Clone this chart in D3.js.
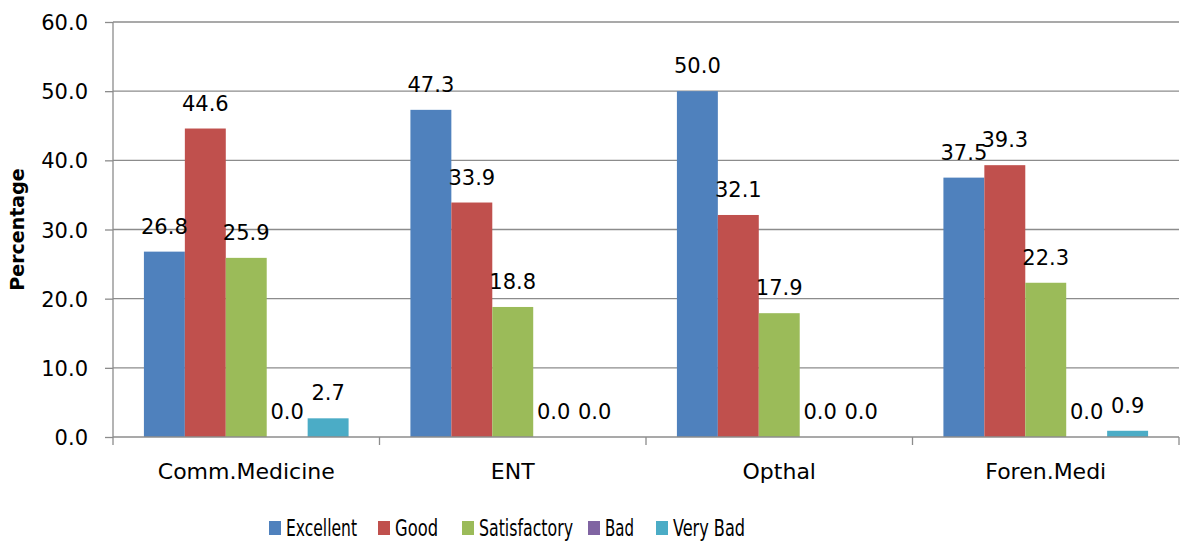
<!DOCTYPE html>
<html>
<head>
<meta charset="utf-8">
<script src="https://cdn.jsdelivr.net/npm/d3@7"></script>
<style>
  body { margin: 0; background: #fff; }
  svg { display: block; }
  text { font-family: "DejaVu Sans", sans-serif; fill: #000; }
</style>
</head>
<body>
<svg id="chart" width="1183" height="542"></svg>
<script>
const categories = ["Comm.Medicine", "ENT", "Opthal", "Foren.Medi"];
const seriesNames = ["Excellent", "Good", "Satisfactory", "Bad", "Very Bad"];
const seriesColors = ["#4F81BD", "#C0504D", "#9BBB59", "#8064A2", "#4BACC6"];
const excellent = [26.8, 47.3, 50.0, 37.5];
const good = [44.6, 33.9, 32.1, 39.3];
const satisfactory = [25.9, 18.8, 17.9, 22.3];
const bad = [0.0, 0.0, 0.0, 0.0];
const veryBad = [2.7, 0.0, 0.0, 0.9];
const yTicks = [0, 10, 20, 30, 40, 50, 60];
const yTitle = "Percentage";

const seriesValues = [excellent, good, satisfactory, bad, veryBad];

const svg = d3.select("#chart");
const margin = { left: 113, right: 4, top: 22, bottom: 105 };
const W = 1183, H = 542;
const plotL = margin.left, plotR = W - margin.right, plotT = margin.top, plotB = H - margin.bottom;

const x0 = d3.scaleBand().domain(categories).range([plotL, plotR]).paddingInner(0).paddingOuter(0);
const bw = x0.bandwidth();
const x1 = d3.scaleBand().domain(seriesNames).range([bw * 0.116, bw * 0.884]).padding(0);
const y = d3.scaleLinear().domain([0, 60]).range([plotB, plotT]);

// gridlines
svg.append("g").selectAll("line").data(yTicks.filter(d => d > 0)).join("line")
  .attr("x1", plotL).attr("x2", plotR)
  .attr("y1", d => y(d)).attr("y2", d => y(d))
  .attr("stroke", "#8c8c8c").attr("stroke-width", 1.3);

// y axis
const yAxis = d3.axisLeft(y).tickValues(yTicks).tickSize(8).tickPadding(17).tickFormat(d3.format(".1f"));
const gy = svg.append("g").attr("transform", `translate(${plotL},0)`).call(yAxis);
gy.select(".domain").remove();
gy.selectAll(".tick line").attr("stroke", "#8c8c8c").attr("stroke-width", 1.3);
gy.selectAll(".tick text").style("font-size", "21px").style("font-family", "DejaVu Sans").attr("fill", "#000").attr("dy", "0.36em");
svg.append("line").attr("x1", plotL).attr("x2", plotL).attr("y1", plotT).attr("y2", plotB + 8)
  .attr("stroke", "#8c8c8c").attr("stroke-width", 1.3);

// bars
const groups = svg.append("g").selectAll("g").data(categories).join("g")
  .attr("transform", d => `translate(${x0(d)},0)`);
groups.selectAll("rect").data((c, i) => seriesNames.map((s, j) => ({ s, j, v: seriesValues[j][i] })))
  .join("rect")
  .attr("x", d => x1(d.s)).attr("width", x1.bandwidth())
  .attr("y", d => y(d.v)).attr("height", d => y(0) - y(d.v))
  .attr("fill", d => seriesColors[d.j]);

// x axis
const xAxis = d3.axisBottom(x0).tickSize(0).tickPadding(26);
const gx = svg.append("g").attr("transform", `translate(0,${plotB})`).call(xAxis);
gx.select(".domain").remove();
gx.selectAll(".tick text").style("font-size", "22px").style("font-family", "DejaVu Sans").attr("fill", "#000");
svg.append("line").attr("x1", plotL).attr("x2", plotR).attr("y1", plotB).attr("y2", plotB)
  .attr("stroke", "#8c8c8c").attr("stroke-width", 1.3);
svg.append("g").selectAll("line").data(categories).join("line")
  .attr("x1", d => x0(d) + bw).attr("x2", d => x0(d) + bw)
  .attr("y1", plotB).attr("y2", plotB + 8)
  .attr("stroke", "#8c8c8c").attr("stroke-width", 1.3);

// value labels
groups.selectAll("text.val").data((c, i) => seriesNames.map((s, j) => ({ s, j, v: seriesValues[j][i] })))
  .join("text").attr("class", "val")
  .attr("x", d => x1(d.s) + x1.bandwidth() / 2)
  .attr("y", d => y(d.v) - 18)
  .attr("text-anchor", "middle")
  .style("font-size", "21px")
  .text(d => d3.format(".1f")(d.v));

// y title
svg.append("text")
  .attr("transform", `translate(24,${(plotT + plotB) / 2}) rotate(-90)`)
  .attr("text-anchor", "middle")
  .style("font-size", "19px").style("font-weight", "bold")
  .text(yTitle);

// legend
const legendX = [269, 378, 462, 588, 656];
const legendW = [71, 43, 94, 29, 72];
const lg = svg.append("g").selectAll("g").data(seriesNames).join("g")
  .attr("transform", (d, i) => `translate(${legendX[i]},521)`);
lg.append("rect").attr("width", 12).attr("height", 14).attr("fill", (d, i) => seriesColors[i]);
lg.append("text").attr("x", 17).attr("y", 15)
  .style("font-size", "23px")
  .style("font-family", "'Liberation Sans Narrow', 'DejaVu Sans Condensed', sans-serif")
  .attr("textLength", (d, i) => legendW[i]).attr("lengthAdjust", "spacingAndGlyphs")
  .text(d => d);
</script>
</body>
</html>
